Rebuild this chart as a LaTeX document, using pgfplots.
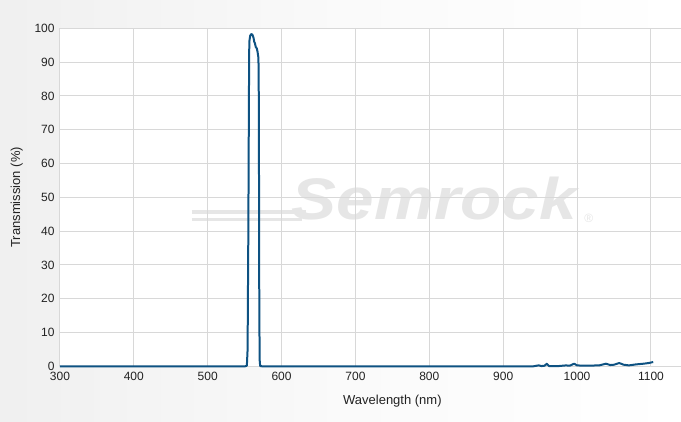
\documentclass[border=0pt]{standalone}
\usepackage{pgfplots}
\pgfplotsset{compat=1.18}
\usepackage{fontspec}
\setmainfont{Liberation Sans}
\definecolor{curve}{RGB}{14,82,130}
\definecolor{gridc}{RGB}{216,216,216}
\definecolor{txt}{RGB}{34,34,34}
\definecolor{wm}{RGB}{230,230,230}

\begin{document}
\begin{tikzpicture}
% page and plot background (1px = 0.75pt, axis origin at pixel (60,366.7))
\shade[left color=black!6, right color=white, middle color=white!98!black]
  (-45pt,-41.5pt) rectangle (465.75pt,275pt);
\fill[white] (0,0) rectangle (465.75pt,253.8pt);
% watermark
\draw[wm, line width=2.5pt] (99pt,116pt) -- (185pt,116pt);
\draw[wm, line width=2.5pt] (99pt,110.5pt) -- (182pt,110.5pt);
\node[anchor=base, text=wm, font=\fontsize{44}{44}\selectfont\bfseries\itshape, xscale=1.15]
  at (281pt,110pt) {Semrock};
\node[anchor=base west, text=wm, font=\fontsize{9}{9}\selectfont] at (390pt,108pt) {®};

\begin{axis}[
  at={(0,0)}, anchor=origin,
  scale only axis,
  width=465.75pt, height=253.8pt,
  xmin=300, xmax=1140, ymin=0, ymax=100,
  xtick={300,400,...,1100},
  ytick={0,10,...,100},
  axis x line*=bottom, axis y line*=left,
  axis line style={gridc, line width=0.75pt, -},
  major tick length=0pt,
  grid=major,
  major grid style={gridc, line width=0.75pt},
  tick label style={text=txt, font=\fontsize{9}{10}\selectfont},
  /pgf/number format/assume math mode=true,
  /pgf/number format/set thousands separator={},
  yticklabel style={xshift=-0.5pt},
  xticklabel style={yshift=-1pt},
  label style={text=txt, font=\fontsize{9.75}{11}\selectfont},
  xlabel={Wavelength (nm)},
  ylabel={Transmission (\%)},
  xlabel style={at={(rel axis cs:0.5357,0)}, anchor=center, yshift=-26.3pt},
  every axis y label/.append style={at={(ticklabel cs:0.5)}, anchor=center, yshift=10pt},
  clip=false,
]
\addplot[curve, line width=1.5pt, line join=round] coordinates {
  (300,0) (550,0) (553,0.2) (554,5) (555,40) (555.8,80) (556.3,96)
  (557.5,97.8) (559,98.3) (560.5,98.1) (562,97.2) (563,96) (564,95.5)
  (565,94.5) (566.5,94) (567.5,93) (568.5,91.5) (569,88) (569.4,60)
  (569.8,20) (570.3,2) (571,0.1) (575,0)
  (940,0) (948,0.3) (952,0.1) (956,0.2) (959,0.8) (962,0.1) (975,0.1)
  (985,0.3) (990,0.2) (996,0.8) (1000,0.3) (1010,0.2) (1030,0.3)
  (1039,0.8) (1045,0.4) (1050,0.5) (1057,1.0) (1063,0.5) (1070,0.3)
  (1080,0.6) (1090,0.8) (1097,1.0) (1103,1.3)
};
\end{axis}
\useasboundingbox (-45pt,-41.5pt) rectangle (465.75pt,275pt);
\end{tikzpicture}
\end{document}
